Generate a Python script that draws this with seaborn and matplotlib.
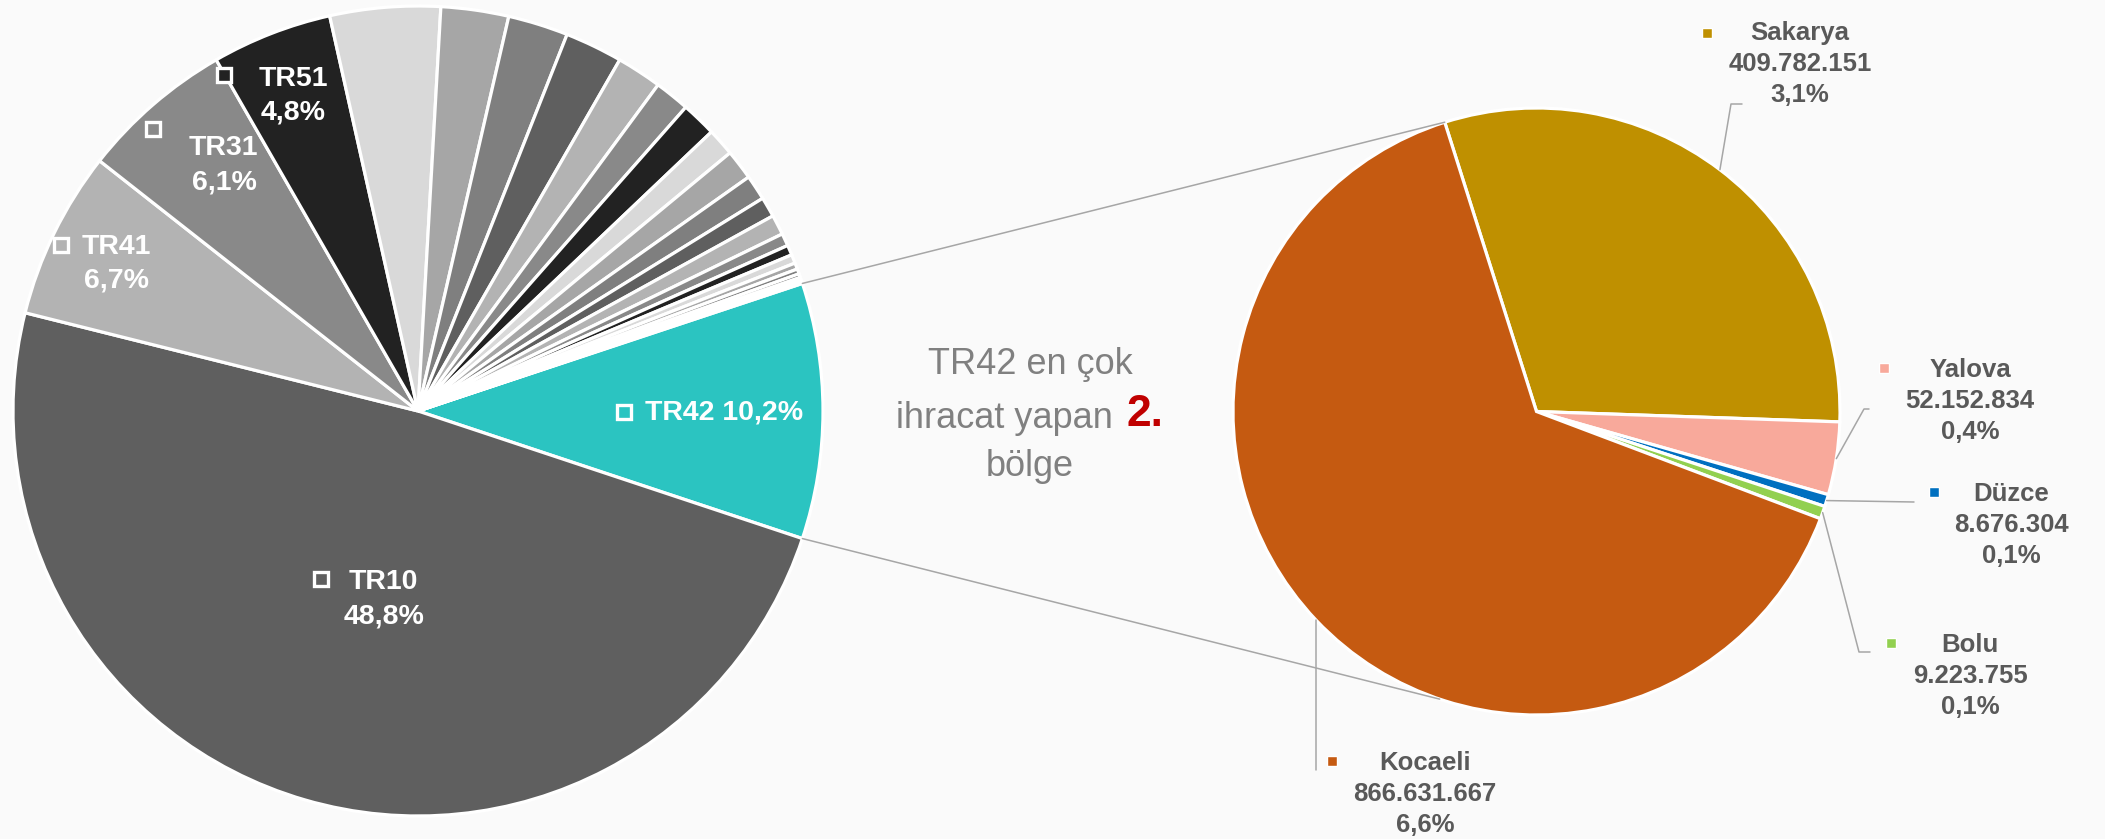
import matplotlib
matplotlib.use("Agg")
import numpy as np
import matplotlib.pyplot as plt
import seaborn as sns

# ---------------- data ----------------
region_codes = ["TR42", "TR10", "TR41", "TR31", "TR51", "TRC1", "TR33", "TR62", "TR32",
                "TR21", "TR22", "TR63", "TR61", "TR81", "TR90", "TR52", "TR72", "TR71",
                "TR83", "TRB1", "TRA1", "TRC2", "TR82", "TRC3", "TRB2", "TRA2"]
region_share = [10.2, 48.8, 6.7, 6.1, 4.8, 4.4, 2.7, 2.4, 2.3, 1.8, 1.4, 1.4, 1.1, 1.2,
                1.0, 0.8, 0.8, 0.5, 0.4, 0.35, 0.25, 0.2, 0.15, 0.12, 0.08, 0.05]
labeled_regions = ["TR10", "TR42", "TR41", "TR31", "TR51"]

sub_provinces = ["Sakarya", "Yalova", "Düzce", "Bolu", "Kocaeli"]
sub_exports = [409782151, 52152834, 8676304, 9223755, 866631667]
sub_share_of_total = [3.1, 0.4, 0.1, 0.1, 6.6]

center_text = ["TR42 en çok", "ihracat yapan", "2.", "bölge"]

# ---------------- style ----------------
sns.set_theme(style="white")
plt.rcParams["font.family"] = ["Liberation Sans", "DejaVu Sans"]

BG = "#FAFAFA"
TEAL = "#2BC4C1"
GRAY_CYCLE = ["#5f5f5f", "#b3b3b3", "#898989", "#222222", "#d9d9d9", "#a6a6a6", "#7f7f7f"]
sub_colors = ["#BF9000", "#F8A99B", "#0070C0", "#92D050", "#C55A11"]
LINE_C = "#A6A6A6"
LABEL_C = "#595959"

W, H = 2105, 839
fig = plt.figure(figsize=(W / 100, H / 100), dpi=100, facecolor=BG)

PAD = 1.05
L = dict(cx=418, cy=411, r=405)
R = dict(cx=1536.5, cy=411.5, r=303.5)


def pie_axes(P):
    rr = P["r"] * PAD
    ax = fig.add_axes([(P["cx"] - rr) / W, (H - P["cy"] - rr) / H, 2 * rr / W, 2 * rr / H])
    ax.set_axis_off()
    return ax


def rim(P, ang):
    a = np.radians(ang)
    return P["cx"] + P["r"] * np.cos(a), P["cy"] - P["r"] * np.sin(a)


def pct(v):
    return f"{v:.1f}".replace(".", ",") + "%"


# ---------------- left pie ----------------
axL = pie_axes(L)
left_colors = [TEAL] + [GRAY_CYCLE[i % len(GRAY_CYCLE)] for i in range(len(region_share) - 1)]
wL, _ = axL.pie(region_share, colors=left_colors, startangle=region_share[0] * 3.6 / 2,
                counterclock=False, radius=1,
                wedgeprops=dict(edgecolor="white", linewidth=2.3))
axL.set_xlim(-PAD, PAD)
axL.set_ylim(-PAD, PAD)

# ---------------- right pie ----------------
axR = pie_axes(R)
wR, _ = axR.pie(sub_exports, colors=sub_colors, startangle=107.6, counterclock=False,
                radius=1, wedgeprops=dict(edgecolor="white", linewidth=2.3))
axR.set_xlim(-PAD, PAD)
axR.set_ylim(-PAD, PAD)

# ---------------- overlay (pixel coords) ----------------
ov = fig.add_axes([0, 0, 1, 1], zorder=5)
ov.set_xlim(0, W)
ov.set_ylim(H, 0)
ov.set_axis_off()

# connector lines between the pies
w42 = wL[region_codes.index("TR42")]
top_ang = wR[0].theta2
p1 = rim(L, w42.theta2)
q1 = rim(R, top_ang)
p2 = rim(L, w42.theta1)
q2 = rim(R, -top_ang - 1.0)
ov.plot([p1[0], q1[0]], [p1[1], q1[1]], color=LINE_C, lw=1.1)
ov.plot([p2[0], q2[0]], [p2[1], q2[1]], color=LINE_C, lw=1.1)

# left pie labels
LFS = 20.5
left_layout = {
    "TR10": dict(marker=(321, 579), lines=[(383, 582), (384, 616)]),
    "TR41": dict(marker=(61, 245), lines=[(116.5, 247), (116.5, 280)]),
    "TR31": dict(marker=(153, 129), lines=[(223, 148), (224, 182)]),
    "TR51": dict(marker=(224, 75), lines=[(293, 79), (293, 113)]),
    "TR42": dict(marker=(624, 412), single=(645, 412)),
}
for code in labeled_regions:
    i = region_codes.index(code)
    lay = left_layout[code]
    mx, my = lay["marker"]
    ov.plot([mx], [my], marker="s", ms=10, mfc=left_colors[i], mec="white", mew=2.4,
            ls="none")
    if "single" in lay:
        tx, ty = lay["single"]
        ov.text(tx, ty, f"{code} {pct(region_share[i])}", ha="left", va="center",
                color="white", fontsize=LFS, fontweight="bold")
    else:
        (x1, y1), (x2, y2) = lay["lines"]
        ov.text(x1, y1, code, ha="center", va="center", color="white", fontsize=LFS,
                fontweight="bold")
        ov.text(x2, y2, pct(region_share[i]), ha="center", va="center", color="white",
                fontsize=LFS, fontweight="bold")

# right pie labels
RFS = 18.5
right_layout = {
    "Sakarya": dict(marker=(1707, 33), x=1800, y0=33, path=[(1731, 104), (1742, 104)]),
    "Yalova": dict(marker=(1884, 368), x=1970, y0=370, path=[(1864, 409), (1869, 409)]),
    "Düzce": dict(marker=(1934, 492), x=2011, y0=494, path=[(1914, 502)]),
    "Bolu": dict(marker=(1891, 643), x=1970, y0=645, path=[(1859, 652), (1870, 652)]),
    "Kocaeli": dict(marker=(1332, 761), x=1425, y0=763, path=[(None, 770)]),
}
LS = 31
for i, name in enumerate(sub_provinces):
    lay = right_layout[name]
    w = wR[i]
    mid = (w.theta1 + w.theta2) / 2
    sx, sy = rim(R, mid)
    xs = [sx] + [sx if p[0] is None else p[0] for p in lay["path"]]
    ys = [sy] + [p[1] for p in lay["path"]]
    ov.plot(xs, ys, color=LINE_C, lw=1.1)
    mx, my = lay["marker"]
    ov.plot([mx], [my], marker="s", ms=7.5, mfc=sub_colors[i], mec="white", mew=1.0,
            ls="none")
    val = f"{sub_exports[i]:,}".replace(",", ".")
    for k, t in enumerate([name, val, pct(sub_share_of_total[i])]):
        ov.text(lay["x"], lay["y0"] + k * LS, t, ha="center", va="center", color=LABEL_C,
                fontsize=RFS, fontweight="bold")

# center annotation
CT_C = "#808080"
ov.text(1030, 364, center_text[0], ha="center", va="center", color=CT_C, fontsize=26)
ov.text(1113, 418, center_text[1], ha="right", va="center", color=CT_C, fontsize=26)
ov.text(1127, 415, center_text[2], ha="left", va="center", color="#C00000", fontsize=32,
        fontweight="bold")
ov.text(1030, 466, center_text[3], ha="center", va="center", color=CT_C, fontsize=26)

fig.savefig("out.png", dpi=100, facecolor=BG)
